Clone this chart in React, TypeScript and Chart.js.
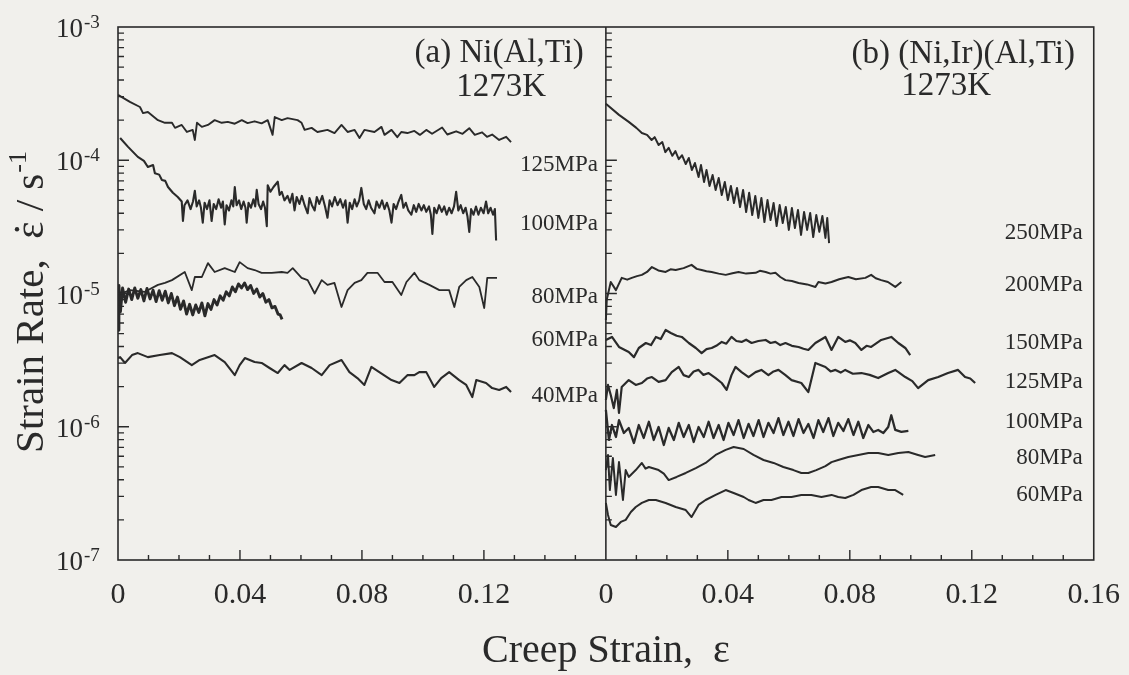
import React, { useEffect, useRef } from 'react';
import { Chart, registerables } from 'chart.js';

Chart.register(...registerables);

type Pt = [number, number]; // [creep strain, strain rate (1/s)]

// ---------- (a) Ni(Al,Ti), 1273K ----------
const a125MPa: Pt[] = [
  [0, 3.1e-4], [0.0039, 2.74e-4], [0.0072, 2.51e-4], [0.0082, 2.26e-4], [0.0098, 2.3e-4], [0.0131, 2.0e-4],
  [0.0154, 1.91e-4], [0.0177, 1.91e-4], [0.0187, 1.75e-4], [0.0209, 1.84e-4], [0.0226, 1.63e-4], [0.0245, 1.69e-4],
  [0.0252, 1.42e-4], [0.0259, 1.91e-4], [0.0275, 1.78e-4], [0.0295, 1.84e-4], [0.0317, 2.0e-4], [0.034, 1.91e-4],
  [0.036, 1.94e-4], [0.0383, 1.88e-4], [0.0406, 2.0e-4], [0.0425, 1.9e-4], [0.0448, 1.96e-4], [0.0471, 1.89e-4],
  [0.0491, 2.0e-4], [0.0507, 1.55e-4], [0.0514, 2.11e-4], [0.0537, 2.0e-4], [0.0556, 2.07e-4], [0.0589, 2.0e-4],
  [0.0602, 1.91e-4], [0.0612, 1.69e-4], [0.0635, 1.75e-4], [0.0654, 1.63e-4], [0.0687, 1.69e-4], [0.071, 1.6e-4],
  [0.0733, 1.84e-4], [0.0753, 1.63e-4], [0.0776, 1.69e-4], [0.0792, 1.47e-4], [0.0808, 1.69e-4], [0.0841, 1.63e-4],
  [0.0864, 1.78e-4], [0.0874, 1.55e-4], [0.0897, 1.69e-4], [0.0916, 1.49e-4], [0.0929, 1.63e-4], [0.0949, 1.6e-4],
  [0.0972, 1.66e-4], [0.099, 1.55e-4], [0.1011, 1.69e-4], [0.103, 1.58e-4], [0.1063, 1.76e-4], [0.108, 1.56e-4],
  [0.1109, 1.65e-4], [0.113, 1.58e-4], [0.1152, 1.74e-4], [0.117, 1.55e-4], [0.1194, 1.62e-4], [0.121, 1.5e-4],
  [0.1227, 1.56e-4], [0.125, 1.42e-4], [0.1273, 1.5e-4], [0.1289, 1.37e-4],
];

const a100MPa: Pt[] = [
  [0.0007, 1.47e-4], [0.0033, 1.26e-4], [0.0065, 1.06e-4], [0.0085, 9.9e-5], [0.0098, 8.9e-5], [0.0115, 9.2e-5],
  [0.0121, 8.0e-5], [0.0135, 7.8e-5], [0.0144, 7.1e-5], [0.0155, 7.0e-5], [0.0164, 6.3e-5], [0.018, 5.7e-5],
  [0.0196, 5.3e-5], [0.0209, 4.9e-5], [0.0213, 3.5e-5], [0.0218, 4.6e-5], [0.0228, 5.0e-5], [0.0238, 4.3e-5],
  [0.0246, 4.9e-5], [0.0252, 5.9e-5], [0.0258, 4.5e-5], [0.0266, 5.0e-5], [0.0272, 4.4e-5], [0.0278, 3.4e-5],
  [0.0284, 4.8e-5], [0.0292, 4.3e-5], [0.03, 5.0e-5], [0.0307, 3.5e-5], [0.0314, 4.7e-5], [0.0322, 4.3e-5],
  [0.033, 5.1e-5], [0.0338, 4.4e-5], [0.0344, 4.9e-5], [0.035, 3.3e-5], [0.0356, 4.6e-5], [0.0364, 4.2e-5],
  [0.0372, 5.0e-5], [0.0378, 4.5e-5], [0.0383, 6.3e-5], [0.0389, 4.6e-5], [0.0397, 5.0e-5], [0.0404, 4.3e-5],
  [0.0412, 4.9e-5], [0.0418, 4.4e-5], [0.0422, 3.4e-5], [0.0428, 4.8e-5], [0.0436, 4.4e-5], [0.0444, 5.1e-5],
  [0.045, 4.5e-5], [0.0455, 6.0e-5], [0.0461, 4.7e-5], [0.0469, 4.3e-5], [0.0476, 4.9e-5], [0.0482, 4.4e-5],
  [0.0488, 3.2e-5], [0.0491, 6.5e-5], [0.05, 5.8e-5], [0.051, 6.3e-5], [0.0524, 6.9e-5], [0.053, 5.5e-5],
  [0.0537, 5.8e-5], [0.0546, 5.0e-5], [0.0556, 5.4e-5], [0.0564, 4.8e-5], [0.0572, 5.6e-5], [0.0579, 4.2e-5],
  [0.0586, 5.3e-5], [0.0595, 4.7e-5], [0.0603, 5.4e-5], [0.0612, 4.6e-5], [0.0622, 4.0e-5], [0.0628, 5.2e-5],
  [0.0636, 4.6e-5], [0.0645, 4.2e-5], [0.0652, 5.3e-5], [0.066, 4.7e-5], [0.067, 5.4e-5], [0.0679, 4.5e-5],
  [0.0687, 3.7e-5], [0.0694, 5.0e-5], [0.0702, 4.5e-5], [0.0711, 5.3e-5], [0.072, 4.6e-5], [0.0729, 5.1e-5],
  [0.0738, 4.4e-5], [0.0746, 5.0e-5], [0.0753, 3.4e-5], [0.076, 4.8e-5], [0.0768, 4.3e-5], [0.0776, 5.1e-5],
  [0.0783, 4.5e-5], [0.0791, 5.0e-5], [0.0798, 6.2e-5], [0.0806, 4.7e-5], [0.0814, 4.3e-5], [0.0822, 5.0e-5],
  [0.083, 4.4e-5], [0.0841, 4.0e-5], [0.0848, 4.9e-5], [0.0857, 4.4e-5], [0.0866, 5.0e-5], [0.0874, 4.3e-5],
  [0.0882, 4.8e-5], [0.089, 4.2e-5], [0.0897, 3.4e-5], [0.0904, 4.7e-5], [0.0912, 4.3e-5], [0.092, 4.9e-5],
  [0.0929, 5.5e-5], [0.0936, 4.4e-5], [0.0944, 4.8e-5], [0.0952, 4.2e-5], [0.0962, 3.9e-5], [0.097, 4.6e-5],
  [0.0978, 4.1e-5], [0.0986, 4.7e-5], [0.0995, 4.2e-5], [0.1003, 4.6e-5], [0.1011, 4.1e-5], [0.102, 4.5e-5],
  [0.1026, 3.9e-5], [0.1031, 2.8e-5], [0.1037, 4.4e-5], [0.1045, 4.0e-5], [0.1053, 4.6e-5], [0.1062, 4.1e-5],
  [0.107, 4.5e-5], [0.1078, 3.9e-5], [0.1086, 4.4e-5], [0.1094, 4.0e-5], [0.1102, 4.5e-5], [0.1109, 5.8e-5],
  [0.1116, 4.2e-5], [0.1124, 4.6e-5], [0.1132, 4.0e-5], [0.114, 4.4e-5], [0.1146, 3.8e-5], [0.1152, 2.9e-5],
  [0.1158, 4.3e-5], [0.1166, 3.9e-5], [0.1174, 4.5e-5], [0.1182, 3.9e-5], [0.119, 4.4e-5], [0.1199, 4.0e-5],
  [0.1207, 4.9e-5], [0.1214, 4.0e-5], [0.1222, 4.4e-5], [0.123, 3.9e-5], [0.1236, 4.3e-5], [0.124, 2.5e-5],
];

const a80MPa: Pt[] = [
  [0, 9.75e-6], [0.0039, 1.06e-5], [0.0088, 1.03e-5], [0.0131, 1.16e-5], [0.0154, 1.2e-5], [0.0177, 1.26e-5],
  [0.0219, 1.45e-5], [0.0242, 1.06e-5], [0.0252, 1.33e-5], [0.0275, 1.33e-5], [0.0295, 1.69e-5], [0.0317, 1.45e-5],
  [0.035, 1.55e-5], [0.0383, 1.45e-5], [0.0399, 1.72e-5], [0.0425, 1.55e-5], [0.0448, 1.5e-5], [0.0471, 1.43e-5],
  [0.0504, 1.43e-5], [0.0537, 1.45e-5], [0.0556, 1.43e-5], [0.0573, 1.55e-5], [0.0602, 1.31e-5], [0.0622, 1.26e-5],
  [0.0645, 1.0e-5], [0.0668, 1.26e-5], [0.0687, 1.16e-5], [0.071, 1.2e-5], [0.0733, 7.92e-6], [0.0753, 1.06e-5],
  [0.0776, 1.2e-5], [0.0798, 1.26e-5], [0.0818, 1.43e-5], [0.0851, 1.43e-5], [0.0874, 1.22e-5], [0.09, 1.22e-5],
  [0.0929, 9.75e-6], [0.0946, 1.22e-5], [0.0972, 1.43e-5], [0.0988, 1.26e-5], [0.1021, 1.16e-5], [0.1054, 1.06e-5],
  [0.1086, 1.06e-5], [0.1103, 7.92e-6], [0.1119, 1.12e-5], [0.1142, 1.26e-5], [0.1162, 1.33e-5], [0.1185, 1.12e-5],
  [0.1201, 7.78e-6], [0.1211, 1.31e-5], [0.1243, 1.31e-5],
];

const a60MPa: Pt[] = [
  [0, 5.3e-6], [0.0003, 1.15e-5], [0.0008, 7.3e-6], [0.0015, 1.1e-5], [0.0025, 8.6e-6], [0.0035, 1.08e-5],
  [0.0045, 9.0e-6], [0.0055, 1.1e-5], [0.0065, 9.2e-6], [0.0075, 1.07e-5], [0.0085, 8.8e-6], [0.0095, 1.09e-5],
  [0.0105, 9.1e-6], [0.0115, 1.06e-5], [0.0125, 8.7e-6], [0.0135, 1.05e-5], [0.0145, 8.9e-6], [0.0155, 1.04e-5],
  [0.0165, 8.5e-6], [0.0175, 1.0e-5], [0.0185, 8.1e-6], [0.0195, 9.4e-6], [0.0205, 7.6e-6], [0.0215, 8.8e-6],
  [0.0225, 7.0e-6], [0.0235, 8.3e-6], [0.0245, 6.9e-6], [0.0255, 8.2e-6], [0.0265, 7.2e-6], [0.0275, 8.5e-6],
  [0.0285, 6.8e-6], [0.0295, 8.4e-6], [0.0305, 7.6e-6], [0.0315, 9.0e-6], [0.0325, 8.2e-6], [0.0335, 9.6e-6],
  [0.0345, 8.9e-6], [0.0355, 1.03e-5], [0.0365, 9.6e-6], [0.0375, 1.12e-5], [0.0385, 1.03e-5], [0.0395, 1.18e-5],
  [0.0405, 1.1e-5], [0.0415, 1.2e-5], [0.0425, 1.07e-5], [0.0435, 1.15e-5], [0.0445, 1.0e-5], [0.0455, 1.08e-5],
  [0.0465, 9.4e-6], [0.0475, 1.0e-5], [0.0485, 8.6e-6], [0.0495, 9.0e-6], [0.0505, 7.8e-6], [0.0515, 8.0e-6],
  [0.0525, 7.0e-6], [0.0532, 6.9e-6], [0.0538, 6.4e-6],
];

const a40MPa: Pt[] = [
  [0, 3.28e-6], [0.0007, 3.33e-6], [0.0023, 3.01e-6], [0.0046, 3.45e-6], [0.0065, 3.57e-6], [0.0098, 3.33e-6],
  [0.0137, 3.45e-6], [0.0177, 3.57e-6], [0.0203, 3.33e-6], [0.0242, 2.9e-6], [0.0268, 3.17e-6], [0.0317, 3.45e-6],
  [0.035, 3.06e-6], [0.0383, 2.44e-6], [0.0399, 2.9e-6], [0.0416, 3.28e-6], [0.0448, 3.06e-6], [0.0471, 3.01e-6],
  [0.0497, 2.76e-6], [0.0524, 2.53e-6], [0.0546, 2.9e-6], [0.0563, 2.67e-6], [0.0602, 3.01e-6], [0.0635, 2.76e-6],
  [0.0668, 2.44e-6], [0.0694, 2.9e-6], [0.0733, 3.17e-6], [0.0759, 2.57e-6], [0.0785, 2.32e-6], [0.0808, 2.06e-6],
  [0.0831, 2.81e-6], [0.0857, 2.57e-6], [0.0897, 2.24e-6], [0.0923, 2.13e-6], [0.0949, 2.44e-6], [0.0972, 2.44e-6],
  [0.0988, 2.57e-6], [0.1011, 2.57e-6], [0.1037, 1.99e-6], [0.106, 2.32e-6], [0.1086, 2.57e-6], [0.1119, 2.24e-6],
  [0.1142, 2.06e-6], [0.1162, 1.67e-6], [0.1175, 2.24e-6], [0.1207, 2.13e-6], [0.1227, 1.95e-6], [0.125, 1.89e-6],
  [0.1273, 1.99e-6], [0.1289, 1.82e-6],
];

// ---------- (b) (Ni,Ir)(Al,Ti), 1273K ----------
const b250MPa: Pt[] = [
  [0, 2.65e-4], [0.0043, 2.19e-4], [0.0075, 1.94e-4], [0.01, 1.75e-4], [0.0118, 1.6e-4], [0.0135, 1.55e-4],
  [0.015, 1.42e-4], [0.016, 1.49e-4], [0.0173, 1.3e-4], [0.0185, 1.37e-4], [0.0195, 1.15e-4], [0.0206, 1.24e-4],
  [0.0218, 1.08e-4], [0.0228, 1.17e-4], [0.0239, 1.02e-4], [0.025, 1.09e-4], [0.0262, 9.37e-5], [0.0272, 1.04e-4],
  [0.0282, 8.45e-5], [0.0292, 9.53e-5], [0.0304, 7.49e-5], [0.0312, 9.2e-5], [0.0322, 6.87e-5], [0.033, 8.45e-5],
  [0.034, 6.41e-5], [0.035, 7.75e-5], [0.036, 5.98e-5], [0.037, 7.36e-5], [0.038, 5.48e-5], [0.039, 6.87e-5],
  [0.04, 5.03e-5], [0.041, 6.41e-5], [0.042, 4.78e-5], [0.043, 6.19e-5], [0.044, 4.46e-5], [0.045, 5.98e-5],
  [0.046, 4.09e-5], [0.047, 5.7e-5], [0.048, 3.88e-5], [0.049, 5.4e-5], [0.05, 3.69e-5], [0.051, 5.21e-5],
  [0.052, 3.44e-5], [0.053, 5.03e-5], [0.054, 3.56e-5], [0.055, 4.78e-5], [0.056, 3.21e-5], [0.057, 4.61e-5],
  [0.058, 3.38e-5], [0.059, 4.46e-5], [0.06, 3.0e-5], [0.061, 4.38e-5], [0.062, 3.1e-5], [0.063, 4.24e-5],
  [0.064, 2.75e-5], [0.065, 4.09e-5], [0.066, 3.0e-5], [0.067, 4.02e-5], [0.068, 2.65e-5], [0.069, 3.88e-5],
  [0.07, 2.9e-5], [0.071, 3.82e-5], [0.072, 2.61e-5], [0.0726, 3.69e-5], [0.0732, 2.39e-5],
];

const b200MPa: Pt[] = [
  [0, 6.33e-6], [0.0003, 9.0e-6], [0.0016, 1.22e-5], [0.0033, 1.06e-5], [0.0052, 1.31e-5], [0.007, 1.27e-5],
  [0.0085, 1.31e-5], [0.0102, 1.35e-5], [0.0118, 1.38e-5], [0.0135, 1.45e-5], [0.0151, 1.58e-5], [0.0172, 1.49e-5],
  [0.0196, 1.45e-5], [0.0212, 1.52e-5], [0.0229, 1.5e-5], [0.0255, 1.55e-5], [0.0281, 1.64e-5], [0.0298, 1.53e-5],
  [0.0314, 1.5e-5], [0.033, 1.47e-5], [0.0347, 1.45e-5], [0.037, 1.41e-5], [0.0393, 1.38e-5], [0.0415, 1.42e-5],
  [0.0435, 1.45e-5], [0.046, 1.41e-5], [0.0491, 1.43e-5], [0.0505, 1.48e-5], [0.0524, 1.45e-5], [0.054, 1.41e-5],
  [0.0556, 1.43e-5], [0.0572, 1.33e-5], [0.0589, 1.26e-5], [0.061, 1.24e-5], [0.0632, 1.2e-5], [0.066, 1.17e-5],
  [0.0687, 1.12e-5], [0.0697, 1.22e-5], [0.072, 1.19e-5], [0.074, 1.22e-5], [0.0765, 1.28e-5], [0.0795, 1.33e-5],
  [0.082, 1.28e-5], [0.0851, 1.31e-5], [0.087, 1.38e-5], [0.0885, 1.3e-5], [0.0903, 1.26e-5], [0.0925, 1.22e-5],
  [0.0949, 1.12e-5], [0.0969, 1.22e-5],
];

const b150MPa: Pt[] = [
  [0, 4.48e-6], [0.002, 4.72e-6], [0.0043, 3.97e-6], [0.0075, 3.64e-6], [0.0092, 3.33e-6], [0.0108, 3.9e-6],
  [0.0131, 4.25e-6], [0.0148, 4.1e-6], [0.0164, 4.72e-6], [0.018, 4.55e-6], [0.0196, 5.32e-6], [0.0213, 5.06e-6],
  [0.0232, 4.82e-6], [0.0249, 4.72e-6], [0.0272, 4.25e-6], [0.0295, 3.9e-6], [0.0314, 3.57e-6], [0.033, 3.82e-6],
  [0.0347, 3.9e-6], [0.0362, 4.05e-6], [0.038, 4.33e-6], [0.0395, 4.2e-6], [0.0412, 4.72e-6], [0.0428, 4.4e-6],
  [0.0445, 4.33e-6], [0.046, 4.5e-6], [0.0478, 4.25e-6], [0.05, 4.4e-6], [0.0524, 4.48e-6], [0.054, 4.25e-6],
  [0.0556, 4.33e-6], [0.0572, 4.1e-6], [0.0589, 4.25e-6], [0.061, 4.05e-6], [0.0632, 3.97e-6], [0.0648, 3.85e-6],
  [0.0664, 3.77e-6], [0.0687, 4.25e-6], [0.072, 4.72e-6], [0.074, 3.77e-6], [0.0762, 4.72e-6], [0.0785, 4.33e-6],
  [0.08, 4.45e-6], [0.0818, 4.25e-6], [0.0838, 3.77e-6], [0.0855, 4.05e-6], [0.087, 3.97e-6], [0.0903, 4.48e-6],
  [0.0936, 4.72e-6], [0.0959, 4.25e-6], [0.0982, 3.9e-6], [0.0998, 3.45e-6],
];

const b125MPa: Pt[] = [
  [0, 1.59e-6], [0.0007, 2.06e-6], [0.0016, 1.73e-6], [0.0026, 1.38e-6], [0.0036, 1.89e-6], [0.0043, 1.27e-6],
  [0.0052, 1.99e-6], [0.0075, 2.24e-6], [0.0098, 2.06e-6], [0.0118, 2.13e-6], [0.0135, 2.3e-6], [0.0151, 2.36e-6],
  [0.0173, 2.17e-6], [0.0196, 2.24e-6], [0.0216, 2.57e-6], [0.0239, 2.81e-6], [0.0255, 2.44e-6], [0.0272, 2.36e-6],
  [0.0288, 2.6e-6], [0.0304, 2.67e-6], [0.032, 2.45e-6], [0.0337, 2.53e-6], [0.036, 2.32e-6], [0.038, 2.13e-6],
  [0.0396, 1.89e-6], [0.0412, 2.44e-6], [0.0425, 2.81e-6], [0.0445, 2.57e-6], [0.0468, 2.36e-6], [0.0491, 2.57e-6],
  [0.051, 2.67e-6], [0.0533, 2.44e-6], [0.055, 2.6e-6], [0.0566, 2.67e-6], [0.0588, 2.45e-6], [0.0609, 2.24e-6],
  [0.0641, 2.13e-6], [0.0664, 1.82e-6], [0.0687, 3.01e-6], [0.072, 2.81e-6], [0.0737, 2.6e-6], [0.0753, 2.67e-6],
  [0.077, 2.55e-6], [0.0785, 2.67e-6], [0.081, 2.5e-6], [0.0838, 2.53e-6], [0.0865, 2.45e-6], [0.0893, 2.32e-6],
  [0.0926, 2.53e-6], [0.0949, 2.67e-6], [0.0982, 2.36e-6], [0.1005, 2.2e-6], [0.1024, 1.95e-6], [0.1057, 2.24e-6],
  [0.109, 2.36e-6], [0.1122, 2.53e-6], [0.1155, 2.67e-6], [0.1178, 2.36e-6], [0.1195, 2.3e-6], [0.1211, 2.13e-6],
];

const b100MPa: Pt[] = [
  [0, 1.34e-6], [0.001, 7.96e-7], [0.002, 1.03e-6], [0.0033, 8.38e-7], [0.0043, 1.12e-6], [0.0059, 8.98e-7],
  [0.0075, 9.79e-7], [0.0092, 7.55e-7], [0.0108, 1.03e-6], [0.0124, 8.24e-7], [0.0141, 1.09e-6], [0.0157, 7.96e-7],
  [0.0173, 9.96e-7], [0.019, 7.3e-7], [0.0206, 9.79e-7], [0.0223, 7.96e-7], [0.0239, 1.07e-6], [0.0255, 8.38e-7],
  [0.0272, 1.03e-6], [0.0288, 7.69e-7], [0.0304, 9.96e-7], [0.0321, 8.38e-7], [0.0337, 1.09e-6], [0.0353, 8.24e-7],
  [0.037, 1.03e-6], [0.0386, 7.96e-7], [0.0402, 1.07e-6], [0.0419, 8.67e-7], [0.0435, 1.12e-6], [0.0452, 8.24e-7],
  [0.0468, 1.05e-6], [0.0484, 8.53e-7], [0.0501, 1.12e-6], [0.0517, 8.38e-7], [0.0533, 1.07e-6], [0.055, 8.98e-7],
  [0.0566, 1.16e-6], [0.0582, 8.67e-7], [0.0599, 1.09e-6], [0.0615, 8.53e-7], [0.0632, 1.14e-6], [0.0648, 8.98e-7],
  [0.0664, 1.05e-6], [0.0681, 8.24e-7], [0.0697, 1.12e-6], [0.0713, 9.14e-7], [0.073, 1.16e-6], [0.0746, 8.53e-7],
  [0.0762, 1.07e-6], [0.0779, 9.3e-7], [0.0795, 1.14e-6], [0.0812, 8.67e-7], [0.0828, 1.09e-6], [0.0844, 8.24e-7],
  [0.0861, 1.03e-6], [0.0877, 9.14e-7], [0.0893, 9.46e-7], [0.091, 8.98e-7], [0.0926, 9.96e-7], [0.0936, 1.22e-6],
  [0.0949, 9.46e-7], [0.0969, 9.14e-7], [0.0992, 9.3e-7],
];

const b80MPa: Pt[] = [
  [0, 4.73e-7], [0.0007, 6.14e-7], [0.0013, 3.35e-7], [0.0023, 5.82e-7], [0.0033, 3.08e-7], [0.0043, 5.43e-7],
  [0.0056, 2.82e-7], [0.0065, 4.73e-7], [0.0075, 4.2e-7], [0.0098, 4.73e-7], [0.0118, 5.35e-7], [0.013, 4.85e-7],
  [0.0141, 4.99e-7], [0.0173, 4.73e-7], [0.019, 4.45e-7], [0.0206, 3.98e-7], [0.0232, 4.2e-7], [0.0262, 4.5e-7],
  [0.0295, 4.9e-7], [0.0327, 5.35e-7], [0.036, 6.14e-7], [0.0393, 6.7e-7], [0.0419, 7.05e-7], [0.0452, 6.81e-7],
  [0.0484, 6.14e-7], [0.0517, 5.63e-7], [0.055, 5.35e-7], [0.0582, 4.99e-7], [0.0615, 4.73e-7], [0.0641, 4.5e-7],
  [0.0664, 4.5e-7], [0.069, 4.73e-7], [0.072, 5.07e-7], [0.074, 5.43e-7], [0.0762, 5.63e-7], [0.0795, 5.93e-7],
  [0.0828, 6.14e-7], [0.0861, 6.35e-7], [0.0893, 6.35e-7], [0.0926, 6.14e-7], [0.0959, 6.35e-7], [0.0992, 6.47e-7],
  [0.1024, 6.14e-7], [0.1047, 5.93e-7], [0.108, 6.14e-7],
];

const b60MPa: Pt[] = [
  [0, 2.68e-7], [0.0007, 2.18e-7], [0.0016, 1.83e-7], [0.0033, 1.77e-7], [0.0049, 1.93e-7], [0.0065, 2.0e-7],
  [0.0082, 2.29e-7], [0.0098, 2.5e-7], [0.0118, 2.68e-7], [0.0141, 2.82e-7], [0.0164, 2.82e-7], [0.0196, 2.68e-7],
  [0.0229, 2.5e-7], [0.0262, 2.37e-7], [0.0281, 2.1e-7], [0.0304, 2.59e-7], [0.0327, 2.82e-7], [0.036, 3.08e-7],
  [0.0393, 3.35e-7], [0.0419, 3.18e-7], [0.0452, 2.97e-7], [0.0468, 2.82e-7], [0.0491, 2.68e-7], [0.0517, 2.82e-7],
  [0.0543, 2.82e-7], [0.0576, 2.97e-7], [0.0609, 2.97e-7], [0.0641, 3.08e-7], [0.0674, 3.08e-7], [0.0707, 2.97e-7],
  [0.074, 3.08e-7], [0.0762, 2.97e-7], [0.0785, 2.92e-7], [0.0812, 3.08e-7], [0.0838, 3.35e-7], [0.087, 3.53e-7],
  [0.0893, 3.53e-7], [0.0926, 3.35e-7], [0.0949, 3.35e-7], [0.0975, 3.08e-7],
];

// ---------- labels ----------
const stressLabelsA = ['125MPa', '100MPa', '80MPa', '60MPa', '40MPa'];
const stressLabelRatesA = [9.54e-5, 3.44e-5, 9.75e-6, 4.64e-6, 1.76e-6];
const stressLabelsB = ['250MPa', '200MPa', '150MPa', '125MPa', '100MPa', '80MPa', '60MPa'];
const stressLabelRatesB = [2.94e-5, 1.2e-5, 4.41e-6, 2.24e-6, 1.12e-6, 6.03e-7, 3.18e-7];
const yExponents = [-3, -4, -5, -6, -7];
const panelTitles = ['(a) Ni(Al,Ti)', '(b) (Ni,Ir)(Al,Ti)'];
const tempLabel = '1273K';
const xTitle = 'Creep Strain,  \u03B5';
const yTitleParts = ['Strain Rate,  ', '\u03B5', ' / s', '-1'];

const PANEL_WIDTH = 0.16; // each panel spans 0 - 0.16 strain
const INK = '#2a2a2a';
const BG = '#f1f0ec';
const SERIF = '"Liberation Serif", "Times New Roman", serif';

const panelA = [
  { data: a125MPa, w: 1.9 },
  { data: a100MPa, w: 2.1 },
  { data: a80MPa, w: 1.8 },
  { data: a60MPa, w: 2.9 },
  { data: a40MPa, w: 2.1 },
];
const panelB = [
  { data: b250MPa, w: 2.0 },
  { data: b200MPa, w: 2.0 },
  { data: b150MPa, w: 2.2 },
  { data: b125MPa, w: 2.2 },
  { data: b100MPa, w: 2.3 },
  { data: b80MPa, w: 2.0 },
  { data: b60MPa, w: 2.0 },
];

const overlay = {
  id: 'overlay',
  beforeDraw(chart: any) {
    const { ctx, width, height } = chart;
    ctx.save();
    ctx.fillStyle = BG;
    ctx.fillRect(0, 0, width, height);
    ctx.restore();
  },
  afterDatasetsDraw(chart: any) {
    const { ctx, chartArea: a, scales } = chart;
    const xs = scales.x;
    const ys = scales.y;
    const xd = xs.getPixelForValue(PANEL_WIDTH);
    ctx.save();
    ctx.strokeStyle = INK;
    ctx.lineWidth = 1.6;
    ctx.strokeRect(a.left, a.top, a.right - a.left, a.bottom - a.top);
    ctx.beginPath();
    ctx.moveTo(xd, a.top);
    ctx.lineTo(xd, a.bottom);
    ctx.stroke();

    // inward tick marks
    ctx.lineWidth = 1.4;
    ctx.beginPath();
    for (let i = 1; i < 32; i++) {
      if (i === 16) continue;
      const px = xs.getPixelForValue(i * 0.01);
      const len = i % 4 === 0 ? 10 : 5;
      ctx.moveTo(px, a.bottom);
      ctx.lineTo(px, a.bottom - len);
    }
    for (let n = -7; n <= -4; n++) {
      for (let k = 1; k <= 9; k++) {
        if (n === -7 && k === 1) continue;
        const py = ys.getPixelForValue(k * Math.pow(10, n));
        const len = k === 1 ? 11 : 6;
        for (const x0 of [a.left, xd]) {
          ctx.moveTo(x0, py);
          ctx.lineTo(x0 + len, py);
        }
      }
    }
    ctx.stroke();

    ctx.fillStyle = INK;
    // y tick labels 10^n
    for (const e of yExponents) {
      const py = ys.getPixelForValue(Math.pow(10, e));
      ctx.font = `27px ${SERIF}`;
      ctx.textAlign = 'right';
      ctx.textBaseline = 'alphabetic';
      ctx.fillText('10', a.left - 35, py + 10);
      ctx.font = `19px ${SERIF}`;
      ctx.textAlign = 'left';
      ctx.fillText(String(e), a.left - 34, py + 1);
    }

    // y axis title (rotated), with a dot over epsilon and superscript -1
    ctx.save();
    ctx.translate(a.left - 75, 302);
    ctx.rotate(-Math.PI / 2);
    ctx.textAlign = 'left';
    const big = `41px ${SERIF}`;
    const sup = `26px ${SERIF}`;
    ctx.font = big;
    const w0 = ctx.measureText(yTitleParts[0]).width;
    const wE = ctx.measureText(yTitleParts[1]).width;
    const w2 = ctx.measureText(yTitleParts[2]).width;
    ctx.font = sup;
    const w3 = ctx.measureText(yTitleParts[3]).width;
    let x = -(w0 + wE + w2 + w3 + 1) / 2;
    ctx.font = big;
    ctx.fillText(yTitleParts[0], x, 0);
    x += w0;
    ctx.fillText(yTitleParts[1], x, 0);
    ctx.beginPath();
    ctx.arc(x + wE / 2 + 1, -26, 2.2, 0, Math.PI * 2);
    ctx.fill();
    x += wE;
    ctx.fillText(yTitleParts[2], x, 0);
    x += w2 + 1;
    ctx.font = sup;
    ctx.fillText(yTitleParts[3], x, -17);
    ctx.restore();

    // x axis title
    ctx.font = `40px ${SERIF}`;
    ctx.textAlign = 'center';
    ctx.fillText(xTitle, (a.left + a.right) / 2, a.bottom + 102);

    // panel titles
    ctx.font = `33px ${SERIF}`;
    ctx.textAlign = 'center';
    ctx.fillText(panelTitles[0], xs.getPixelForValue(0.125), a.top + 35);
    ctx.fillText(tempLabel, xs.getPixelForValue(0.1257), a.top + 69);
    ctx.fillText(panelTitles[1], xs.getPixelForValue(0.2772), a.top + 36);
    ctx.fillText(tempLabel, xs.getPixelForValue(0.2716), a.top + 68);

    // stress labels
    ctx.font = `23px ${SERIF}`;
    ctx.textAlign = 'right';
    stressLabelsA.forEach((t, i) => {
      ctx.fillText(t, xs.getPixelForValue(0.1574), ys.getPixelForValue(stressLabelRatesA[i]) + 8);
    });
    stressLabelsB.forEach((t, i) => {
      ctx.fillText(t, xs.getPixelForValue(PANEL_WIDTH + 0.1564), ys.getPixelForValue(stressLabelRatesB[i]) + 8);
    });
    ctx.restore();
  },
};

export default function App() {
  const ref = useRef<HTMLCanvasElement | null>(null);
  useEffect(() => {
    if (!ref.current) return;
    const mk = (series: { data: Pt[]; w: number }[], offset: number) =>
      series.map((s) => ({
        data: s.data.map(([x, y]) => ({ x: x + offset, y })),
        showLine: true,
        borderColor: INK,
        borderWidth: s.w,
        borderJoinStyle: 'round',
        pointRadius: 0,
        tension: 0,
        fill: false,
      }));
    const chart = new Chart(ref.current, {
      type: 'scatter',
      data: { datasets: [...mk(panelA, 0), ...mk(panelB, PANEL_WIDTH)] as any },
      options: {
        animation: false,
        responsive: false,
        maintainAspectRatio: false,
        layout: { padding: { top: 27, right: 32, left: 0, bottom: 0 } },
        plugins: { legend: { display: false }, tooltip: { enabled: false } },
        scales: {
          x: {
            type: 'linear',
            min: 0,
            max: 2 * PANEL_WIDTH,
            grid: { display: false },
            border: { display: false },
            afterFit: (s: any) => { s.height = 115; },
            ticks: {
              stepSize: 0.04,
              autoSkip: false,
              maxRotation: 0,
              padding: 9,
              color: INK,
              font: { family: SERIF, size: 30 },
              callback: (v: any) => {
                let val = Number(v);
                if (Math.abs(val - PANEL_WIDTH) < 1e-9) val = 0;
                else if (val > PANEL_WIDTH) val -= PANEL_WIDTH;
                val = Math.round(val * 100) / 100;
                return val === 0 ? '0' : val.toFixed(2);
              },
            },
          },
          y: {
            type: 'logarithmic',
            min: 1e-7,
            max: 1e-3,
            grid: { display: false },
            border: { display: false },
            ticks: { display: false },
            afterFit: (s: any) => { s.width = 118; },
          },
        },
      } as any,
      plugins: [overlay],
    });
    return () => chart.destroy();
  }, []);
  return (
    <div style={{ position: 'fixed', left: 0, top: 0, width: 1129, height: 675, background: BG }}>
      <canvas ref={ref} width={1129} height={675} style={{ display: 'block' }} />
    </div>
  );
}
